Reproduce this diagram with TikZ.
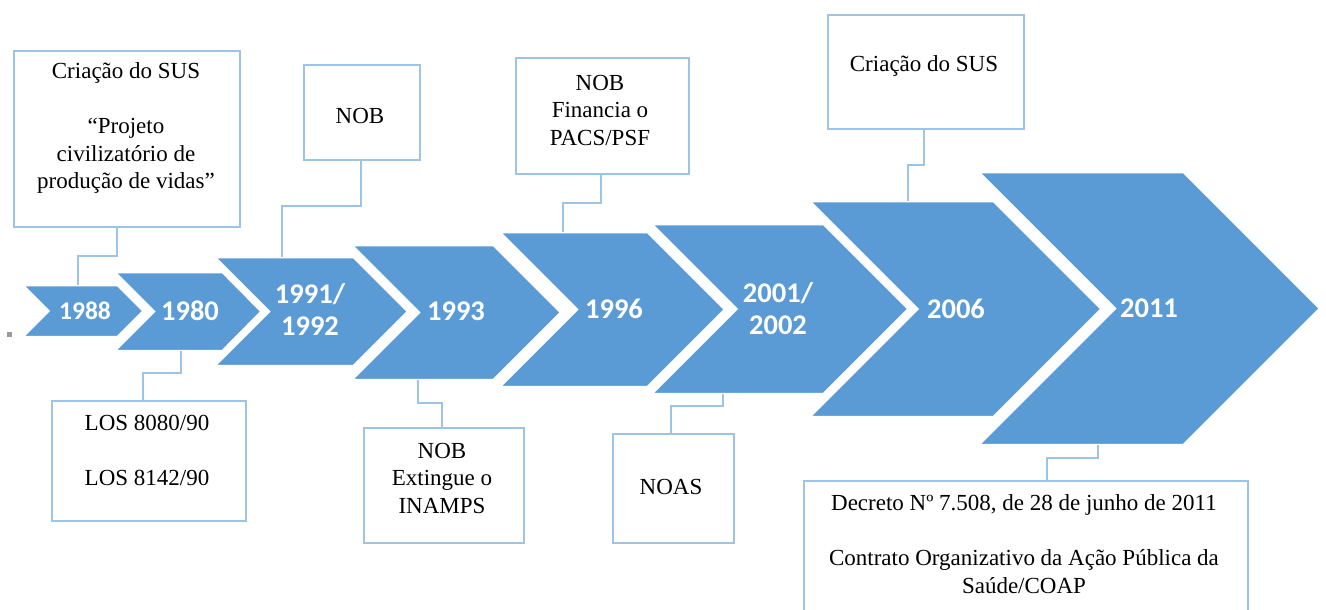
\documentclass[tikz,border=0pt]{standalone}
\usepackage{fontspec}
\setmainfont{Liberation Serif}
\newfontfamily\yearfont{Carlito}
\definecolor{chev}{HTML}{5B9BD5}
\definecolor{boxline}{HTML}{9DC3E6}
\begin{document}
\begin{tikzpicture}[x=1pt,y=-1pt,
  boxnode/.style={draw=boxline, line width=2pt, fill=white, inner sep=0pt, anchor=north west},
  txt/.style={align=center, font=\fontsize{23}{27.5}\selectfont, inner sep=0pt},
  yr/.style={text=white, align=center, font=\yearfont\bfseries\fontsize{28.5}{32}\selectfont, inner sep=0pt},
  chevshape/.style={fill=chev, draw=white, line width=4.5pt, line join=miter},
  conn/.style={draw=boxline, line width=1.5pt}]
\useasboundingbox (0,0) rectangle (1326,610);

% small gray mark
\fill[gray!80] (7,332) rectangle (12,337);

% chevrons
\path[chevshape] (20,284)--(118,284)--(145,311)--(118,338)--(20,338)--(47,311)--cycle;
\path[chevshape] (112,271)--(223,271)--(263,311.5)--(223,352)--(112,352)--(152.5,311.5)--cycle;
\path[chevshape] (212,256)--(354,256)--(409.5,311.5)--(354,367)--(212,367)--(267.5,311.5)--cycle;
\path[chevshape] (349,244)--(494,244)--(562.5,312.5)--(494,381)--(349,381)--(417.5,312.5)--cycle;
\path[chevshape] (497,231)--(648,231)--(726.5,309.5)--(648,388)--(497,388)--(575.5,309.5)--cycle;
\path[chevshape] (649,223)--(824,223)--(910,309)--(824,395)--(649,395)--(735,309)--cycle;
\path[chevshape] (807,200)--(994,200)--(1103,309)--(994,418)--(807,418)--(916,309)--cycle;
\path[chevshape] (976,171)--(1184,171)--(1321.5,308.5)--(1184,446)--(976,446)--(1113.5,308.5)--cycle;

% year labels
\node[yr, font=\yearfont\bfseries\fontsize{25.5}{30}\selectfont] (y1) at (85,311) {1988};
\node[yr] (y2) at (190,311) {1980};
\node[yr] (y3) at (310,309) {1991/\\1992};
\node[yr] (y4) at (456,311) {1993};
\node[yr] (y5) at (614,309) {1996};
\node[yr] (y6) at (778,309) {2001/\\2002};
\node[yr] (y7) at (956,309) {2006};
\node[yr] (y8) at (1149,308) {2011};

% boxes
\node[boxnode, minimum width=226pt, minimum height=176pt] (bA) at (13,50) {};
\node[txt] (tA) at (126,128) {Criação do SUS\\\mbox{}\\“Projeto\\civilizatório de\\produção de vidas”};

\node[boxnode, minimum width=116pt, minimum height=95pt] (bB) at (303,64) {};
\node[txt] (tB) at (360,116) {NOB};

\node[boxnode, minimum width=173pt, minimum height=116pt] (bC) at (515,57) {};
\node[txt] (tC) at (600,110) {NOB\\Financia o\\PACS/PSF};

\node[boxnode, minimum width=196pt, minimum height=114pt] (bD) at (827,14) {};
\node[txt] (tD) at (924,66) {Criação do SUS};

\node[boxnode, minimum width=194pt, minimum height=120pt] (bE) at (51,400) {};
\node[txt] (tE) at (147,450.5) {LOS 8080/90\\\mbox{}\\LOS 8142/90};

\node[boxnode, minimum width=160pt, minimum height=115pt] (bF) at (363,427) {};
\node[txt] (tF) at (442,478) {NOB\\Extingue o\\INAMPS};

\node[boxnode, minimum width=121pt, minimum height=109pt] (bG) at (612,433) {};
\node[txt] (tG) at (671,487) {NOAS};

\node[boxnode, minimum width=444pt, minimum height=140pt] (bH) at (803,480) {};
\node[txt] (tH) at (1024,544) {Decreto Nº 7.508, de 28 de junho de 2011\\\mbox{}\\Contrato Organizativo da Ação Pública da\\Saúde/COAP};

% connector end points
\coordinate (pA) at (117,226);  \coordinate (c1) at (78,285);
\coordinate (pB) at (361,159);  \coordinate (c3) at (282,257);
\coordinate (pC) at (601,173);  \coordinate (c5) at (563,232);
\coordinate (pD) at (924,128);  \coordinate (c7) at (908,201);
\coordinate (c2) at (181,351);  \coordinate (pE) at (143,400);
\coordinate (c4) at (418,380);  \coordinate (pF) at (442,427);
\coordinate (c6) at (723,394);  \coordinate (pG) at (671,433);
\coordinate (c8) at (1098,445); \coordinate (pH) at (1047,480);

\draw[conn] (pA) -- ++(0,30) -| (c1);
\draw[conn] (pB) -- ++(0,47) -| (c3);
\draw[conn] (pC) -- ++(0,30) -| (c5);
\draw[conn] (pD) -- ++(0,37) -| (c7);
\draw[conn] (c2) -- ++(0,22) -| (pE);
\draw[conn] (c4) -- ++(0,23) -| (pF);
\draw[conn] (c6) -- ++(0,12) -| (pG);
\draw[conn] (c8) -- ++(0,13) -| (pH);
\end{tikzpicture}
\end{document}
